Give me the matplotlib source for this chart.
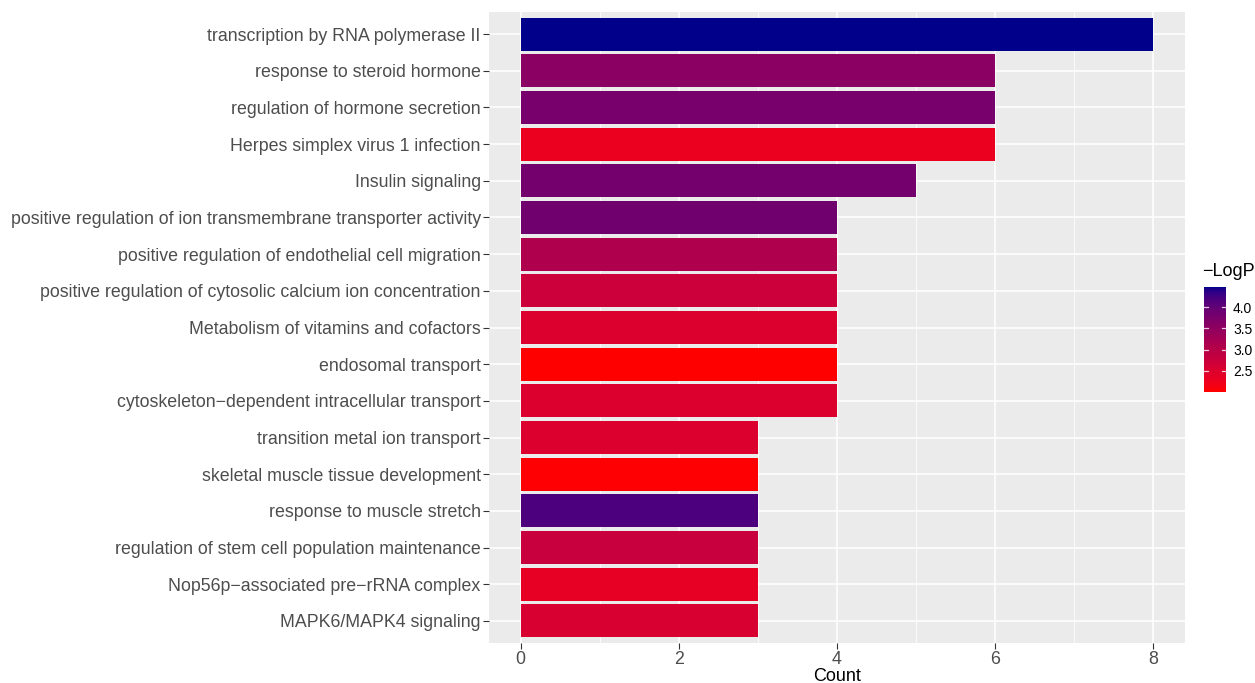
import numpy as np
import matplotlib
matplotlib.use("Agg")
import matplotlib.pyplot as plt
from matplotlib.colors import ListedColormap, Normalize

plt.rcParams['font.family'] = ['Liberation Sans', 'DejaVu Sans']

terms = [
    "transcription by RNA polymerase II",
    "response to steroid hormone",
    "regulation of hormone secretion",
    "Herpes simplex virus 1 infection",
    "Insulin signaling",
    "positive regulation of ion transmembrane transporter activity",
    "positive regulation of endothelial cell migration",
    "positive regulation of cytosolic calcium ion concentration",
    "Metabolism of vitamins and cofactors",
    "endosomal transport",
    "cytoskeleton\u2212dependent intracellular transport",
    "transition metal ion transport",
    "skeletal muscle tissue development",
    "response to muscle stretch",
    "regulation of stem cell population maintenance",
    "Nop56p\u2212associated pre\u2212rRNA complex",
    "MAPK6/MAPK4 signaling",
]
counts = [8, 6, 6, 6, 5, 4, 4, 4, 4, 4, 4, 3, 3, 3, 3, 3, 3]
logp = [4.48, 3.58, 3.80, 2.28, 3.83, 3.86, 3.12, 2.72, 2.50, 2.00, 2.50,
        2.50, 2.02, 4.18, 2.77, 2.33, 2.55]
cbar_ticks = [2.5, 3.0, 3.5, 4.0]
x_ticks = [0, 2, 4, 6, 8]

# ---- Lab colour ramp (as ggplot's scale_fill_gradient) ----
def srgb_to_lab(rgb):
    rgb = np.asarray(rgb, float)
    lin = np.where(rgb <= 0.04045, rgb / 12.92, ((rgb + 0.055) / 1.055) ** 2.4)
    M = np.array([[0.4124, 0.3576, 0.1805],
                  [0.2126, 0.7152, 0.0722],
                  [0.0193, 0.1192, 0.9505]])
    xyz = M @ lin
    wp = np.array([0.95047, 1.0, 1.08883])
    t = xyz / wp
    f = np.where(t > 0.008856, np.cbrt(t), 7.787 * t + 16 / 116)
    return np.array([116 * f[1] - 16, 500 * (f[0] - f[1]), 200 * (f[1] - f[2])])

def lab_to_srgb(lab):
    L, a, b = lab
    fy = (L + 16) / 116
    fx = fy + a / 500
    fz = fy - b / 200
    def finv(f):
        return f ** 3 if f ** 3 > 0.008856 else (f - 16 / 116) / 7.787
    wp = np.array([0.95047, 1.0, 1.08883])
    xyz = np.array([finv(fx), finv(fy), finv(fz)]) * wp
    Minv = np.array([[3.2406, -1.5372, -0.4986],
                     [-0.9689, 1.8758, 0.0415],
                     [0.0557, -0.2040, 1.0570]])
    lin = np.clip(Minv @ xyz, 0, 1)
    s = np.where(lin <= 0.0031308, 12.92 * lin, 1.055 * lin ** (1 / 2.4) - 0.055)
    return np.clip(s, 0, 1)

low = srgb_to_lab([1.0, 0.0, 0.0])
high = srgb_to_lab([0.0, 0.0, 139 / 255])
cols = [lab_to_srgb(low + (high - low) * t) for t in np.linspace(0, 1, 256)]
cmap = ListedColormap(cols)
norm = Normalize(vmin=min(logp), vmax=max(logp))

W, H = 1255, 683
fig = plt.figure(figsize=(W / 100, H / 100), dpi=100)
L, R, T, B = 489, 1185, 12, 643
ax = fig.add_axes([L / W, 1 - B / H, (R - L) / W, (B - T) / H])
ax.set_facecolor('#EBEBEB')

ypos = np.arange(len(terms))[::-1]
ax.barh(ypos, counts, height=0.9, color=cmap(norm(np.array(logp))), zorder=3)
ax.set_yticks(ypos)
ax.set_yticklabels(terms)
ax.set_ylim(-0.6, len(terms) - 0.4)
ax.set_xlim(-0.4, 8.4)
ax.set_xticks(x_ticks)
ax.set_xticks([1, 3, 5, 7], minor=True)
ax.grid(True, which='major', color='white', linewidth=1.1, zorder=0)
ax.grid(True, which='minor', axis='x', color='white', linewidth=0.55, zorder=0)
ax.set_axisbelow(True)
for s in ax.spines.values():
    s.set_visible(False)
ax.tick_params(axis='both', which='major', length=4, width=0.8, color='#333333',
               labelcolor='#4D4D4D', labelsize=12.75, pad=2)
ax.tick_params(axis='both', which='minor', length=0)
ax.set_xlabel('Count', fontsize=13, color='black', labelpad=0)

# colour bar
cax = fig.add_axes([1204 / W, 1 - 392 / H, 22 / W, (392 - 287) / H])
grad = np.linspace(min(logp), max(logp), 300).reshape(-1, 1)
cax.imshow(grad, aspect='auto', cmap=cmap, norm=norm, origin='lower',
           extent=[0, 1, min(logp), max(logp)])
cax.set_xlim(0, 1)
cax.set_ylim(min(logp), max(logp))
cax.set_xticks([])
cax.set_yticks(cbar_ticks)
cax.set_yticklabels([f"{v:.1f}" for v in cbar_ticks])
cax.yaxis.tick_right()
cax.tick_params(axis='y', length=0, labelsize=10, labelcolor='black', pad=5)
for v in cbar_ticks:
    cax.plot([0, 0.2], [v, v], color='white', lw=0.9, alpha=0.8)
    cax.plot([0.8, 1], [v, v], color='white', lw=0.9, alpha=0.8)
for s in cax.spines.values():
    s.set_visible(False)
fig.text(1202 / W, 1 - 272 / H, '\u2212LogP', fontsize=13, ha='left', va='center')

fig.savefig('out.png', dpi=100)
